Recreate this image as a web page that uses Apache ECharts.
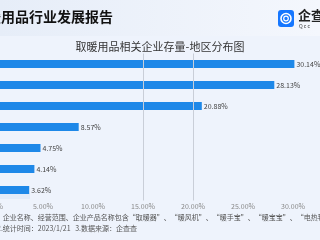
<!DOCTYPE html>
<html><head><meta charset="utf-8">
<script src="https://cdn.jsdelivr.net/npm/echarts@6/dist/echarts.min.js"></script>
<style>html,body{margin:0;padding:0;overflow:hidden;width:320px;height:240px;background:#eef3fc;}
#c{position:absolute;left:-40px;top:0;width:400px;height:240px;}</style>
</head><body><div id="c"></div>
<script>
var categories = ['地区1','地区2','地区3','地区4','地区5','地区6','地区7'];
var values = [30.14, 28.13, 20.88, 8.57, 4.75, 4.14, 3.62];
var xTicks = [0, 5, 10, 15, 20, 25, 30, 35];
var refLines = [15, 20];

var O = 40; // page-to-chart x offset
var chart = echarts.init(document.getElementById('c'), null, {renderer:'canvas'});
var font = '"Noto Sans CJK SC", sans-serif';
chart.setOption({
  backgroundColor: '#eef3fc',
  animation: false,
  graphic: [
    {type:'rect', shape:{x:O,y:0,width:320,height:36}, z:-1,
     style:{fill:new echarts.graphic.LinearGradient(0,0,1,0,[{offset:0,color:'#e6edf8'},{offset:1,color:'#f4f7fd'}])}},
    {type:'text', x:O-27, y:10, style:{text:'取暖用品行业发展报告', font:'bold 14px '+font, fill:'#111'}},
    {type:'rect', shape:{x:O+278,y:10,width:16,height:17,r:3}, style:{fill:'#1677ff'}},
    {type:'circle', shape:{cx:O+286,cy:18.5,r:5}, style:{fill:'none', stroke:'#fff', lineWidth:1.6}},
    {type:'circle', shape:{cx:O+286,cy:18.5,r:2.3}, style:{fill:'none', stroke:'#fff', lineWidth:1.2}},
    {type:'text', x:O+298, y:9, style:{text:'企查查', font:'bold 13px '+font, fill:'#222'}},
    {type:'text', x:O+299, y:24, style:{text:'Q c c', font:'5px '+font, fill:'#333'}},
    {type:'text', x:O+160, y:41, style:{text:'取暖用品相关企业存量-地区分布图', font:'11px '+font, fill:'#333', textAlign:'center'}},
    {type:'rect', shape:{x:O,y:193,width:30,height:6}, style:{fill:'#e2ebf9'}},
    {type:'text', x:O-38, y:214, style:{text:'1.统计口径：企业名称、经营范围、企业产品名称包含“取暖器”、“暖风机”、“暖手宝”、“暖宝宝”、“电热毯”、“暖气片”、“空气能热水器”', font:'7px '+font, fill:'#555'}},
    {type:'text', x:O-3, y:225, style:{text:'2.统计时间：2023/1/21   3.数据来源：企查查', font:'7px '+font, fill:'#555'}}
  ],
  grid: {left:O-7, width:350, top:53.5, height:147, containLabel:false},
  xAxis: {
    type:'value', min:xTicks[0], max:xTicks[xTicks.length-1], interval:5,
    axisLine:{show:false}, axisTick:{show:false}, splitLine:{show:false},
    axisLabel:{fontSize:7, color:'#888', margin:2, fontFamily:font, formatter:function(v){return v.toFixed(2)+'%';}}
  },
  yAxis: {
    type:'category', data:categories, inverse:true,
    axisLine:{show:false}, axisTick:{show:false}, axisLabel:{show:false}
  },
  series: [{
    type:'bar', data:values, barWidth:8,
    itemStyle:{color:'#1e88e8'},
    label:{show:true, position:'right', distance:2, fontSize:7, color:'#444', fontFamily:font,
      formatter:function(p){return p.value.toFixed(2)+'%';}},
    markLine:{silent:true, symbol:'none', label:{show:false},
      lineStyle:{color:'#c9ced8', type:'solid', width:1},
      data: refLines.map(function(v){return {xAxis:v};})}
  }]
});
</script></body></html>
